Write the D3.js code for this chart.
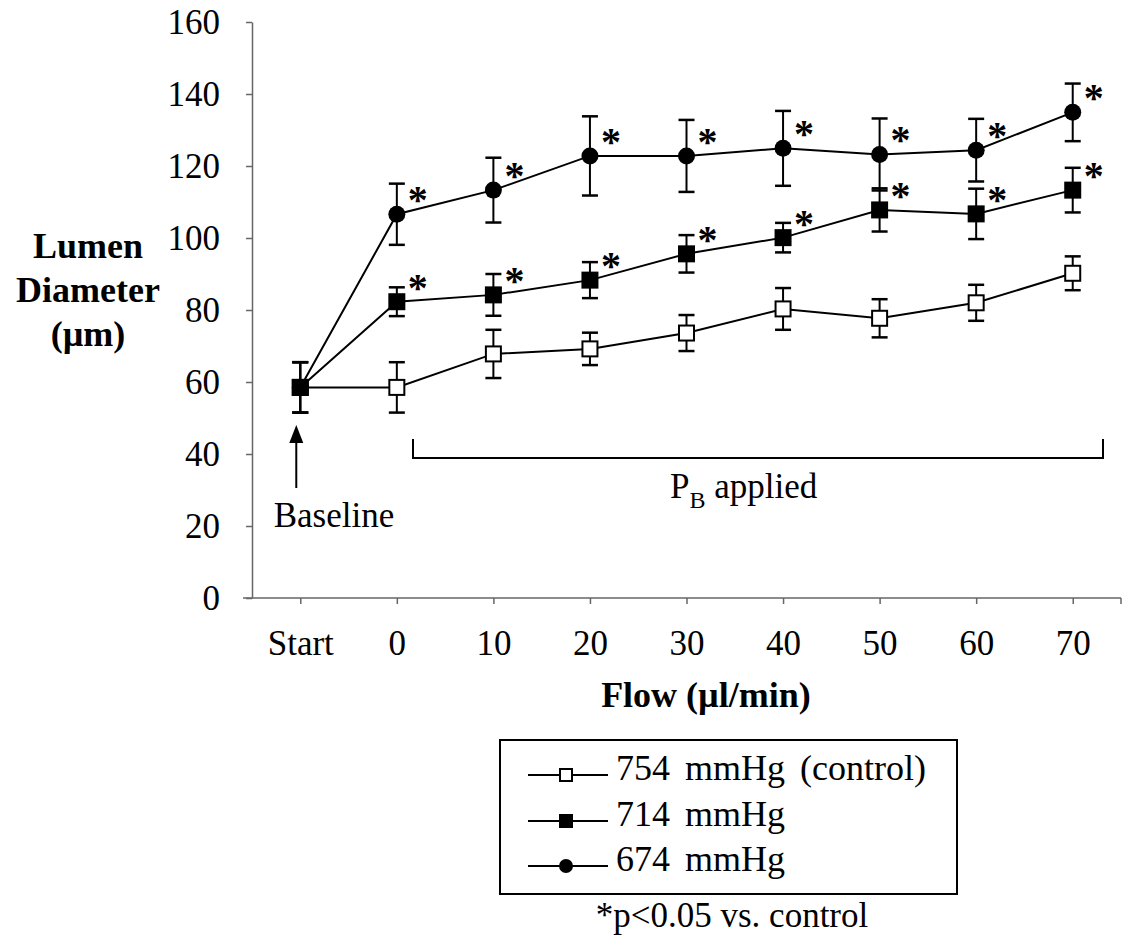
<!DOCTYPE html>
<html>
<head>
<meta charset="utf-8">
<script src="https://cdn.jsdelivr.net/npm/d3@7"></script>
<style>
    body { margin: 0; background: #fff; }
    text { font-family: "Liberation Serif", "Times New Roman", serif; fill: #000; }
</style>
</head>
<body>
<svg id="chart"></svg>
<script>
const WIDTH = 1127
const HEIGHT = 941
const FONT = '"Liberation Serif", "Times New Roman", serif'

// flow categories on the x axis
const categories = ["Start", "0", "10", "20", "30", "40", "50", "60", "70"]
const yTicks = [0, 20, 40, 60, 80, 100, 120, 140, 160]

// lumen diameter (um), mean and error
const control754 = [58.5, 58.5, 67.8, 69.2, 73.6, 80.3, 77.7, 82.0, 90.2]
const control754Err = [7, 7, 6.7, 4.5, 5, 5.8, 5.3, 5, 4.7]
const p714 = [58.5, 82.3, 84.2, 88.3, 95.6, 100.1, 107.8, 106.7, 113.3]
const p714Err = [7, 4, 5.8, 5, 5.2, 4.1, 6, 7, 6.2]
const p674 = [58.5, 106.6, 113.3, 122.8, 122.8, 124.9, 123.2, 124.4, 134.9]
const p674Err = [7, 8.5, 9, 11, 10, 10.4, 10, 8.7, 8]
// significant vs. control
const sig714 = [0, 1, 1, 1, 1, 1, 1, 1, 1]
const sig674 = [0, 1, 1, 1, 1, 1, 1, 1, 1]

const seriesNames = ["754 mmHg (control)", "714 mmHg", "674 mmHg"]

const svg = d3.select("#chart").attr("width", WIDTH).attr("height", HEIGHT)

const x = d3.scalePoint().domain(categories).range([252, 1121]).padding(0.5)
const y = d3.scaleLinear().domain([0, 160]).range([598, 22])

// axes
let yAxis = svg.append("g")
    .attr("transform", "translate(252,0)")
    .call(d3.axisLeft(y).tickValues(yTicks).tickSize(6).tickSizeOuter(0).tickPadding(26))
yAxis.select(".domain").attr("stroke", "#666").attr("stroke-width", 1.5)
yAxis.selectAll(".tick line").attr("stroke", "#666").attr("stroke-width", 1.5)
yAxis.selectAll("text").attr("font-size", 35).attr("font-family", FONT).attr("fill", "#000")

let xAxis = svg.append("g")
    .attr("transform", "translate(0,598)")
    .call(d3.axisBottom(x).tickSize(6).tickSizeOuter(0).tickPadding(26))
xAxis.select(".domain").remove()
xAxis.selectAll(".tick line").attr("stroke", "#666").attr("stroke-width", 1.5)
xAxis.selectAll("text").attr("font-size", 35).attr("font-family", FONT).attr("fill", "#000")
xAxis.append("line")
    .attr("x1", 243).attr("x2", 1121).attr("y1", 0).attr("y2", 0)
    .attr("stroke", "#666").attr("stroke-width", 1.5)
xAxis.append("line")
    .attr("x1", 1121).attr("x2", 1121).attr("y1", 0).attr("y2", 6)
    .attr("stroke", "#666").attr("stroke-width", 1.5)

// axis titles
let yTitle = svg.append("text")
    .attr("text-anchor", "middle")
    .attr("font-size", 36)
    .attr("font-weight", "bold")
;[["Lumen", 258], ["Diameter", 302], ["(\u00b5m)", 346]].forEach(d => {
    yTitle.append("tspan").attr("x", 88).attr("y", d[1]).text(d[0])
})

svg.append("text")
    .attr("x", 706).attr("y", 707)
    .attr("text-anchor", "middle")
    .attr("font-size", 36)
    .attr("font-weight", "bold")
    .text("Flow (\u00b5l/min)")

// series
const series = [
    {name: seriesNames[0], values: control754, err: control754Err, sig: null, shape: "openSquare"},
    {name: seriesNames[2], values: p674, err: p674Err, sig: sig674, shape: "circle"},
    {name: seriesNames[1], values: p714, err: p714Err, sig: sig714, shape: "square"}
]

const line = d3.line().x((d, i) => x(categories[i])).y(d => y(d))

function drawMarker(g, shape, cx, cy, size) {
    if (shape === "circle") {
        g.append("circle").attr("cx", cx).attr("cy", cy).attr("r", size / 2).attr("fill", "#000")
    } else if (shape === "square") {
        g.append("rect").attr("x", cx - size / 2).attr("y", cy - size / 2)
            .attr("width", size).attr("height", size).attr("fill", "#000")
    } else {
        g.append("rect").attr("x", cx - size / 2 + 1).attr("y", cy - size / 2 + 1)
            .attr("width", size - 2).attr("height", size - 2)
            .attr("fill", "#fff").attr("stroke", "#000").attr("stroke-width", 2)
    }
}

series.forEach(s => {
    let g = svg.append("g")
    g.append("path")
        .datum(s.values)
        .attr("d", line)
        .attr("fill", "none")
        .attr("stroke", "#000")
        .attr("stroke-width", 2)

    s.values.forEach((v, i) => {
        let cx = x(categories[i])
        let top = y(v + s.err[i]), bot = y(v - s.err[i])
        g.append("line").attr("x1", cx).attr("x2", cx).attr("y1", top).attr("y2", bot)
            .attr("stroke", "#000").attr("stroke-width", 2)
        ;[top, bot].forEach(yy => {
            g.append("line").attr("x1", cx - 8).attr("x2", cx + 8).attr("y1", yy).attr("y2", yy)
                .attr("stroke", "#000").attr("stroke-width", 2.5)
        })
        drawMarker(g, s.shape, cx, y(v), 17)
        if (s.sig && s.sig[i]) {
            // significance asterisk
            g.append("text")
                .attr("x", cx + 21).attr("y", y(v) - 22 + 21)
                .attr("text-anchor", "middle")
                .attr("font-size", 40)
                .attr("font-weight", "bold")
                .text("*")
        }
    })
})

// baseline arrow
let xs = x("Start") - 4
svg.append("line")
    .attr("x1", xs).attr("x2", xs).attr("y1", 488).attr("y2", 436)
    .attr("stroke", "#000").attr("stroke-width", 2)
svg.append("path")
    .attr("d", `M${xs - 7},${443} L${xs},${425} L${xs + 7},${443} Z`)
    .attr("fill", "#000")
svg.append("text")
    .attr("x", 334).attr("y", 527)
    .attr("text-anchor", "middle")
    .attr("font-size", 35)
    .text("Baseline")

// P_B applied bracket
svg.append("path")
    .attr("d", "M413,439 L413,458 L1103,458 L1103,439")
    .attr("fill", "none")
    .attr("stroke", "#000")
    .attr("stroke-width", 2)
let pb = svg.append("text")
    .attr("x", 670).attr("y", 498)
    .attr("font-size", 35)
pb.append("tspan").text("P")
pb.append("tspan").attr("font-size", 24).attr("dy", 10).text("B")
pb.append("tspan").attr("dy", -10).text(" applied")

// legend
let legend = svg.append("g")
legend.append("rect")
    .attr("x", 500).attr("y", 740).attr("width", 457).attr("height", 154)
    .attr("fill", "#fff").attr("stroke", "#000").attr("stroke-width", 2)
const legendShapes = ["openSquare", "square", "circle"]
const legendY = [775, 821, 866]
seriesNames.forEach((name, i) => {
    legend.append("line")
        .attr("x1", 528).attr("x2", 608).attr("y1", legendY[i]).attr("y2", legendY[i])
        .attr("stroke", "#000").attr("stroke-width", 2)
    drawMarker(legend, legendShapes[i], 566, legendY[i], 14)
    legend.append("text")
        .attr("x", 616).attr("y", legendY[i] + 5)
        .attr("font-size", 36)
        .attr("word-spacing", 6)
        .text(name)
})

svg.append("text")
    .attr("x", 732).attr("y", 927)
    .attr("text-anchor", "middle")
    .attr("font-size", 35)
    .text("*p<0.05 vs. control")
</script>
</body>
</html>
